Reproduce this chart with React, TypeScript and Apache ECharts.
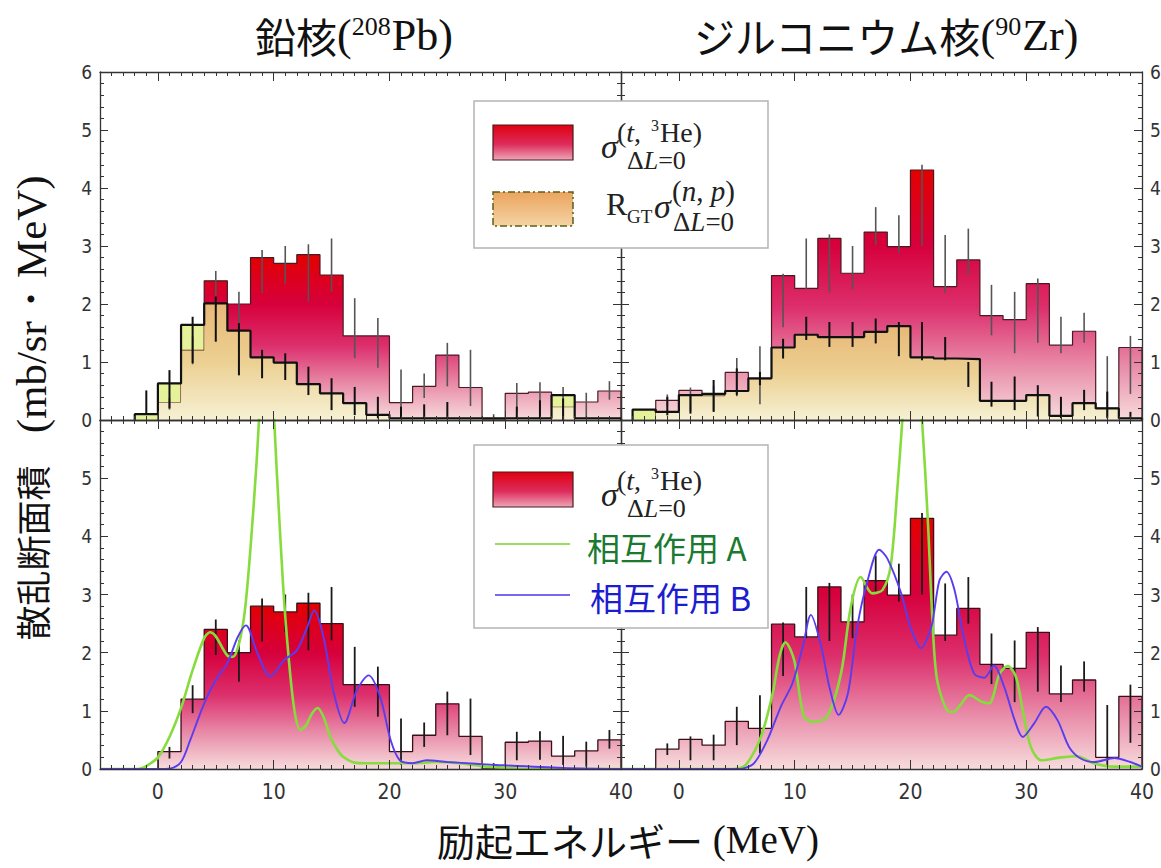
import React, { useEffect, useRef } from 'react';
import * as echarts from 'echarts';

const BIN_WIDTH = 2;
const X_MIN = -5;
const X_MAX = 40;
const X_LABELS = [0, 10, 20, 30, 40];
const Y_LABELS_TOP = [0, 1, 2, 3, 4, 5, 6];
const Y_LABELS_BOTTOM = [0, 1, 2, 3, 4, 5];

// ---- 208Pb ----
const pbT3HeStart = 0;
const pbT3He = [0.3, 1.2, 2.4, 2.0, 2.8, 2.7, 2.85, 2.5, 1.45, 1.45, 0.3, 0.58, 1.12, 0.56, 0.0, 0.46, 0.48, 0.22, 0.31, 0.5];
const pbT3HeErr = [[0.18, 0.38], [0.96, 1.44], [1.96, 2.57], [1.5, 2.21], [2.19, 2.93], [2.35, 3.0], [2.04, 3.03], [2.21, 3.13], [1.07, 2.1], [0.9, 1.76], [0.07, 0.87], [0.38, 0.8], [0.58, 1.33], [0.24, 1.21], [-0.02, 0.1], [0.15, 0.64], [0.16, 0.65], [0.07, 0.57], [0.04, 0.47], [0.35, 0.67]];
const pbNpStart = -2;
const pbNp = [0.1, 0.63, 1.64, 2.01, 1.54, 1.08, 0.99, 0.62, 0.46, 0.29, 0.09, 0.03, 0.03, 0.03, 0.03, 0.03, 0.03, 0.03, 0.43, 0.03, 0.03];
const pbNpErr = [[0.085, 0.51], [0.2, 0.86], [0.98, 1.78], [1.35, 2.13], [0.77, 1.67], [0.72, 1.21], [0.69, 1.15], [0.43, 0.92], [0.17, 0.72], [0.085, 0.57], [0.03, 0.4], [0.03, 0.23], [0.03, 0.27], [0.03, 0.31], [0.03, 0.03], [0.03, 0.03], [0.03, 0.23], [0.03, 0.34], [0.0, 0.37], [0.03, 0.03], [0.03, 0.03]];
const pbLineA = [[-5, 0], [-2, 0], [-1.5, 0.01], [-1, 0.05], [0, 0.2], [1, 0.55], [2, 1.05], [3, 1.7], [4, 2.25], [4.5, 2.35], [5, 2.28], [6, 1.95], [6.5, 1.93], [7, 2.15], [7.5, 2.7], [8, 3.8], [8.5, 5.2], [9, 6.8], [9.4, 7.3], [9.8, 6.8], [10.3, 5.0], [10.8, 3.2], [11.3, 1.9], [11.8, 1.0], [12.3, 0.67], [12.8, 0.75], [13.3, 0.95], [13.8, 1.05], [14.3, 0.9], [14.9, 0.55], [15.5, 0.33], [16, 0.21], [17, 0.11], [18, 0.1], [20, 0.1], [22, 0.1], [24, 0.12], [26, 0.1], [28, 0.05], [30, 0.02], [32, 0], [40, 0]];
const pbLineB = [[-5, 0], [0, 0], [1.1, 0.01], [2, 0.12], [2.8, 0.5], [4, 1.13], [5, 1.53], [6, 1.82], [6.9, 2.27], [7.6, 2.47], [8.6, 1.99], [9.7, 1.59], [10.9, 1.87], [12, 2.04], [12.9, 2.44], [13.5, 2.73], [14.3, 2.27], [15.2, 1.3], [16.1, 0.79], [17.2, 1.36], [18.2, 1.61], [19.2, 1.24], [20.1, 0.5], [20.9, 0.15], [22, 0.1], [23.2, 0.15], [25, 0.12], [27.5, 0.09], [29.2, 0.07], [35, 0.02], [40, 0]];

// ---- 90Zr ----
const zrT3HeStart = -2;
const zrT3He = [0.34, 0.51, 0.41, 0.82, 0.7, 2.49, 2.27, 3.13, 2.53, 3.24, 2.99, 4.31, 2.3, 2.76, 1.8, 1.73, 2.35, 1.29, 1.53, 0.2, 1.25];
const zrT3HeErr = [[0.24, 0.44], [0.15, 0.56], [0.15, 0.59], [0.41, 1.07], [0.27, 1.27], [1.6, 2.52], [2.25, 3.13], [2.2, 3.2], [2.25, 3.0], [3.02, 3.67], [2.88, 3.53], [3.0, 4.4], [2.2, 3.19], [2.5, 3.3], [1.46, 2.33], [1.15, 2.21], [1.33, 2.44], [1.15, 1.78], [1.33, 1.85], [0.05, 1.1], [0.45, 1.45]];
const zrNpStart = -4;
const zrNp = [0.18, 0.14, 0.43, 0.45, 0.5, 0.72, 1.25, 1.47, 1.43, 1.43, 1.52, 1.62, 1.08, 1.06, 1.05, 0.33, 0.33, 0.43, 0.07, 0.29, 0.2, 0.03];
const zrNpErr = [[0.18, 0.18], [0.08, 0.4], [0.11, 0.43], [0.14, 0.69], [0.43, 0.89], [0.6, 0.83], [1.06, 1.4], [1.38, 1.78], [1.26, 1.69], [1.26, 1.69], [1.32, 1.75], [1.1, 1.69], [1.03, 1.69], [1.03, 1.43], [0.57, 1.0], [0.23, 0.66], [0.17, 0.75], [0.06, 0.6], [0.03, 0.4], [0.17, 0.52], [0.03, 0.49], [0.03, 0.14]];
const zrLineA = [[-5, 0], [4, 0], [5.1, 0.01], [5.9, 0.1], [7.1, 0.56], [8.1, 1.3], [8.7, 1.95], [9.2, 2.18], [9.96, 1.87], [10.8, 0.9], [11.7, 0.81], [12.8, 0.9], [14.0, 1.64], [14.85, 2.79], [15.7, 3.3], [16.7, 3.02], [17.6, 3.08], [18.3, 3.5], [18.9, 4.9], [19.3, 6.0], [19.7, 7.2], [20.1, 7.6], [20.5, 7.2], [21.0, 6.0], [21.5, 4.28], [21.9, 2.56], [22.3, 1.53], [23.2, 1.0], [23.7, 0.98], [24.3, 1.1], [25.1, 1.27], [26.1, 1.16], [26.8, 1.13], [27.7, 1.64], [28.4, 1.77], [29.1, 1.59], [29.7, 1.01], [30.4, 0.38], [31.3, 0.15], [33.0, 0.2], [34.4, 0.22], [35.8, 0.1], [37.6, 0.04], [40, 0.04]];
const zrLineB = [[-5, 0], [5, 0], [5.6, 0.01], [6.5, 0.1], [7.65, 0.5], [8.8, 1.07], [9.8, 1.47], [10.7, 2.1], [11.4, 2.65], [12.3, 2.1], [13.0, 1.41], [13.8, 0.93], [14.6, 1.3], [15.4, 2.44], [16.3, 3.24], [17.3, 3.77], [18.0, 3.62], [19.2, 3.02], [20.0, 2.44], [20.9, 2.08], [21.8, 2.44], [22.5, 3.24], [23.1, 3.39], [23.8, 3.08], [24.6, 2.27], [25.5, 1.64], [26.4, 1.57], [27.2, 1.78], [28.1, 1.41], [29.0, 0.84], [29.7, 0.55], [30.7, 0.79], [31.7, 1.07], [32.7, 0.84], [33.7, 0.38], [34.7, 0.18], [35.9, 0.12], [37.6, 0.19], [39.0, 0.12], [40, 0.04]];

const SERIF = "'Liberation Serif', 'DejaVu Serif', serif";
const CJK = "'Noto Sans CJK JP', 'Noto Sans CJK SC', sans-serif";
const NARROW = "'Liberation Sans Narrow', 'DejaVu Sans Condensed', 'Liberation Sans', sans-serif";
const AXIS_COLOR = '#333';

function stepData(start: number, values: number[]) {
  const pts: number[][] = [[start, 0]];
  values.forEach((v, i) => pts.push([start + i * BIN_WIDTH, v]));
  const end = start + values.length * BIN_WIDTH;
  pts.push([end, values[values.length - 1]]);
  pts.push([end, 0]);
  return pts;
}

function valueAt(start: number, values: number[], edge: number) {
  const i = Math.round((edge - start) / BIN_WIDTH);
  return i >= 0 && i < values.length ? values[i] : 0;
}

function minHist(startA: number, a: number[], startB: number, b: number[]) {
  const start = Math.min(startA, startB);
  const end = Math.max(startA + a.length * BIN_WIDTH, startB + b.length * BIN_WIDTH);
  const values: number[] = [];
  for (let e = start; e < end - 1e-9; e += BIN_WIDTH) values.push(Math.min(valueAt(startA, a, e), valueAt(startB, b, e)));
  return { start, values };
}

const redGrad = () => ({
  type: 'linear', x: 0, y: 0, x2: 0, y2: 1,
  colorStops: [
    { offset: 0, color: '#e30000' },
    { offset: 0.3, color: '#d6003c' },
    { offset: 0.55, color: '#dc2f6c' },
    { offset: 0.78, color: '#e88aa8' },
    { offset: 1, color: '#f7dcdc' },
  ],
});
const tanGrad = () => ({
  type: 'linear', x: 0, y: 0, x2: 0, y2: 1,
  colorStops: [
    { offset: 0, color: '#e8b878' },
    { offset: 0.5, color: '#ecd092' },
    { offset: 1, color: '#f6f1d4' },
  ],
});

function histSeries(g: number, start: number, values: number[], z: number, opts: any) {
  return {
    type: 'line', xAxisIndex: 4 * g, yAxisIndex: 2 * g, step: 'end', symbol: 'none', silent: true, z,
    data: stepData(start, values), ...opts,
  };
}

function errSeries(g: number, start: number, errs: number[][], color: string, width: number, z: number) {
  return {
    type: 'custom', xAxisIndex: 4 * g, yAxisIndex: 2 * g, silent: true, clip: true, z,
    encode: { x: 0, y: [1, 2] },
    data: errs.map((e, i) => [start + i * BIN_WIDTH + BIN_WIDTH / 2, e[0], e[1]]),
    renderItem: (params: any, api: any) => {
      const a = api.coord([api.value(0), api.value(1)]);
      const b = api.coord([api.value(0), api.value(2)]);
      return { type: 'line', shape: { x1: a[0], y1: a[1], x2: b[0], y2: b[1] }, style: { stroke: color, lineWidth: width } };
    },
  };
}

function curveSeries(g: number, data: number[][], color: string, width: number, z: number) {
  return {
    type: 'line', xAxisIndex: 4 * g, yAxisIndex: 2 * g, symbol: 'none', smooth: 0.3, silent: true, clip: true, z,
    data, lineStyle: { color, width },
  };
}

function topPanel(g: number, t3Start: number, t3: number[], t3Err: number[][], npStart: number, np: number[], npErr: number[][]) {
  const m = minHist(t3Start, t3, npStart, np);
  return [
    histSeries(g, npStart, np, 2, { lineStyle: { opacity: 0 }, areaStyle: { color: '#e6f29a', opacity: 1 } }),
    histSeries(g, t3Start, t3, 3, { lineStyle: { color: '#4a1a22', width: 1.2 }, areaStyle: { color: redGrad(), opacity: 1 } }),
    histSeries(g, m.start, m.values, 4, { lineStyle: { opacity: 0 }, areaStyle: { color: tanGrad(), opacity: 1 } }),
    errSeries(g, t3Start, t3Err, '#555', 1.6, 5),
    histSeries(g, npStart, np, 6, { lineStyle: { color: '#111', width: 2.2 } }),
    errSeries(g, npStart, npErr, '#111', 2, 7),
  ];
}

function bottomPanel(g: number, t3Start: number, t3: number[], t3Err: number[][], lineA: number[][], lineB: number[][]) {
  return [
    histSeries(g, t3Start, t3, 2, { lineStyle: { color: '#3a1018', width: 1.3 }, areaStyle: { color: redGrad(), opacity: 1 } }),
    errSeries(g, t3Start, t3Err, '#1a1a1a', 1.8, 4),
    curveSeries(g, lineA, '#86dc3c', 2.6, 6),
    curveSeries(g, lineB, '#5a3cf0', 1.9, 7),
  ];
}

const tickLine = { color: AXIS_COLOR, width: 1 };

function xAxesFor(g: number, bottomLabels: boolean) {
  const base = { type: 'value', gridIndex: g, min: X_MIN, max: X_MAX, interval: 1, z: 10, splitLine: { show: false } };
  return [
    {
      ...base, position: 'bottom',
      axisLine: { show: true, onZero: false, lineStyle: { color: AXIS_COLOR, width: 1.3 } },
      axisTick: { show: true, inside: true, length: 4, lineStyle: tickLine },
      axisLabel: bottomLabels
        ? { show: true, customValues: X_LABELS, margin: 12, fontSize: 21, color: '#333', fontFamily: NARROW }
        : { show: false },
    },
    {
      ...base, position: 'bottom',
      axisLine: { show: false, onZero: false },
      axisTick: { show: true, inside: true, length: 9, customValues: X_LABELS, lineStyle: tickLine },
      axisLabel: { show: false },
    },
    {
      ...base, position: 'top',
      axisLine: { show: true, onZero: false, lineStyle: { color: AXIS_COLOR, width: 1.3 } },
      axisTick: { show: true, inside: true, length: 4, lineStyle: tickLine },
      axisLabel: { show: false },
    },
    {
      ...base, position: 'top',
      axisLine: { show: false, onZero: false },
      axisTick: { show: true, inside: true, length: 9, customValues: X_LABELS, lineStyle: tickLine },
      axisLabel: { show: false },
    },
  ];
}

function yAxesFor(g: number, labelSide: 'left' | 'right', labels: number[]) {
  const mk = (pos: 'left' | 'right') => ({
    type: 'value', gridIndex: g, position: pos, min: 0, max: 6, interval: 1, z: 10,
    splitLine: { show: false }, minorSplitLine: { show: false },
    axisLine: { show: true, onZero: false, lineStyle: { color: AXIS_COLOR, width: 1.3 } },
    axisTick: { show: true, inside: true, length: 8, lineStyle: tickLine },
    minorTick: { show: true, splitNumber: 5, length: 4, lineStyle: tickLine },
    axisLabel: pos === labelSide
      ? { show: true, customValues: labels, margin: 8, fontSize: 19, color: '#333', fontFamily: NARROW }
      : { show: false },
  });
  return [mk('left'), mk('right')];
}

function txt(text: string, x: number, y: number, extra: any = {}, z = 102) {
  return {
    type: 'text', z, silent: true,
    style: {
      text, x, y, fill: '#222', fontFamily: SERIF, fontSize: 24,
      align: 'left', verticalAlign: 'middle', textAlign: 'left', textVerticalAlign: 'middle', ...extra,
    },
  };
}

const mathRich = (size: number, lh = size) => ({
  p: { fontFamily: SERIF, fontSize: size, fill: '#222', lineHeight: lh },
  i: { fontFamily: SERIF, fontSize: size, fontStyle: 'italic', fill: '#222', lineHeight: lh },
});

function sigmaT3He(dy: number) {
  return [
    txt('σ', 601, 146 + dy, { fontSize: 34, fontStyle: 'italic', lineHeight: 30 }),
    txt('{p|(}{i|t}{p|, }', 617, 132 + dy, { rich: mathRich(28, 24) }),
    txt('3', 651, 125 + dy, { fontSize: 16, lineHeight: 14 }),
    txt('He)', 660, 132 + dy, { fontSize: 28, lineHeight: 24 }),
    txt('{p|Δ}{i|L}{p|=0}', 627, 160 + dy, { rich: mathRich(26, 20) }),
  ];
}

const redSwatch = {
  type: 'linear', x: 0, y: 0, x2: 0, y2: 1,
  colorStops: [{ offset: 0, color: '#e00010' }, { offset: 0.55, color: '#dd2c5c' }, { offset: 1, color: '#eea6b8' }],
};
const tanSwatch = {
  type: 'linear', x: 0, y: 0, x2: 0, y2: 1,
  colorStops: [{ offset: 0, color: '#eba45e' }, { offset: 1, color: '#f4d4a4' }],
};

const titleRich = {
  c: { fontFamily: CJK, fontSize: 41, fill: '#111', lineHeight: 46 },
  p: { fontFamily: SERIF, fontSize: 44, fill: '#111', lineHeight: 46 },
  s: { fontFamily: SERIF, fontSize: 26, fill: '#111', padding: [0, 1, 18, 0] },
};

const graphics: any[] = [
  // titles
  txt('{c|鉛核}{p|(}{s|208}{p|Pb)}', 354, 35, { align: 'center', textAlign: 'center', rich: titleRich }),
  txt('{c|ジルコニウム核}{p|(}{s|90}{p|Zr)}', 886, 35, { align: 'center', textAlign: 'center', rich: titleRich }),
  // x axis title
  txt('{c|励起エネルギー}{p| (MeV)}', 628, 839, {
    align: 'center', textAlign: 'center',
    rich: {
      c: { fontFamily: CJK, fontSize: 38, fill: '#111', lineHeight: 38 },
      p: { fontFamily: SERIF, fontSize: 39, fill: '#111', lineHeight: 38 },
    },
  }),
  // y axis title
  {
    type: 'text', z: 102, silent: true, x: 31, y: 408, rotation: Math.PI / 2,
    style: {
      text: '{c|散乱断面積}{p|   (mb/sr・MeV)}', x: 0, y: 0,
      align: 'center', verticalAlign: 'middle', textAlign: 'center', textVerticalAlign: 'middle',
      rich: {
        c: { fontFamily: CJK, fontSize: 35, fill: '#111', lineHeight: 42 },
        p: { fontFamily: SERIF, fontSize: 43, fill: '#111', lineHeight: 42 },
      },
    },
  },
  // top legend
  { type: 'rect', z: 100, silent: true, shape: { x: 474, y: 101, width: 294, height: 147 }, style: { fill: '#fff', stroke: '#b4b4b4', lineWidth: 1.5 } },
  { type: 'rect', z: 101, silent: true, shape: { x: 493, y: 125, width: 80, height: 35 }, style: { fill: redSwatch, stroke: '#4a1a1a', lineWidth: 1.2 } },
  { type: 'rect', z: 101, silent: true, shape: { x: 493, y: 192, width: 80, height: 34 }, style: { fill: tanSwatch, stroke: '#55601a', lineWidth: 1.5, lineDash: [7, 3, 2, 3] } },
  ...sigmaT3He(0),
  txt('R', 606, 204, { fontSize: 32, lineHeight: 28 }),
  txt('GT', 627, 216, { fontSize: 19, lineHeight: 16 }),
  txt('σ', 654, 206, { fontSize: 34, fontStyle: 'italic', lineHeight: 30 }),
  txt('{p|(}{i|n}{p|, }{i|p}{p|)}', 672, 191, { rich: mathRich(29, 24) }),
  txt('{p|Δ}{i|L}{p|=0}', 673, 222, { rich: mathRich(27, 20) }),
  // bottom legend
  { type: 'rect', z: 100, silent: true, shape: { x: 474, y: 445, width: 294, height: 183 }, style: { fill: '#fff', stroke: '#b4b4b4', lineWidth: 1.5 } },
  { type: 'rect', z: 101, silent: true, shape: { x: 493, y: 472, width: 80, height: 35 }, style: { fill: redSwatch, stroke: '#4a1a1a', lineWidth: 1.2 } },
  ...sigmaT3He(348),
  { type: 'line', z: 101, silent: true, shape: { x1: 495, y1: 544, x2: 570, y2: 544 }, style: { stroke: '#9ade5e', lineWidth: 2 } },
  { type: 'line', z: 101, silent: true, shape: { x1: 495, y1: 595, x2: 570, y2: 595 }, style: { stroke: '#7868ee', lineWidth: 2 } },
  txt('相互作用 A', 587, 547, { fontFamily: CJK, fontSize: 33, fill: '#1b7a30', lineHeight: 30 }),
  txt('相互作用 B', 590, 597, { fontFamily: CJK, fontSize: 33, fill: '#1c1cd0', lineHeight: 30 }),
];

export default function App() {
  const ref = useRef<HTMLDivElement>(null);
  useEffect(() => {
    if (!ref.current) return;
    const chart = echarts.init(ref.current, undefined, { renderer: 'svg' });
    const grids = [
      { left: 100, top: 72, width: 521, height: 348 },
      { left: 621, top: 72, width: 521, height: 348 },
      { left: 100, top: 420, width: 521, height: 349 },
      { left: 621, top: 420, width: 521, height: 349 },
    ].map((g) => ({ ...g, show: false, containLabel: false, outerBoundsMode: 'none' }));
    const option: any = {
      animation: false,
      backgroundColor: '#fff',
      grid: grids,
      xAxis: [...xAxesFor(0, false), ...xAxesFor(1, false), ...xAxesFor(2, true), ...xAxesFor(3, true)],
      yAxis: [
        ...yAxesFor(0, 'left', Y_LABELS_TOP),
        ...yAxesFor(1, 'right', Y_LABELS_TOP),
        ...yAxesFor(2, 'left', Y_LABELS_BOTTOM),
        ...yAxesFor(3, 'right', Y_LABELS_BOTTOM),
      ],
      series: [
        ...topPanel(0, pbT3HeStart, pbT3He, pbT3HeErr, pbNpStart, pbNp, pbNpErr),
        ...topPanel(1, zrT3HeStart, zrT3He, zrT3HeErr, zrNpStart, zrNp, zrNpErr),
        ...bottomPanel(2, pbT3HeStart, pbT3He, pbT3HeErr, pbLineA, pbLineB),
        ...bottomPanel(3, zrT3HeStart, zrT3He, zrT3HeErr, zrLineA, zrLineB),
      ],
      graphic: graphics,
    };
    chart.setOption(option);
    return () => chart.dispose();
  }, []);
  return <div ref={ref} style={{ position: 'fixed', left: 0, top: 0, width: 1161, height: 868 }} />;
}
